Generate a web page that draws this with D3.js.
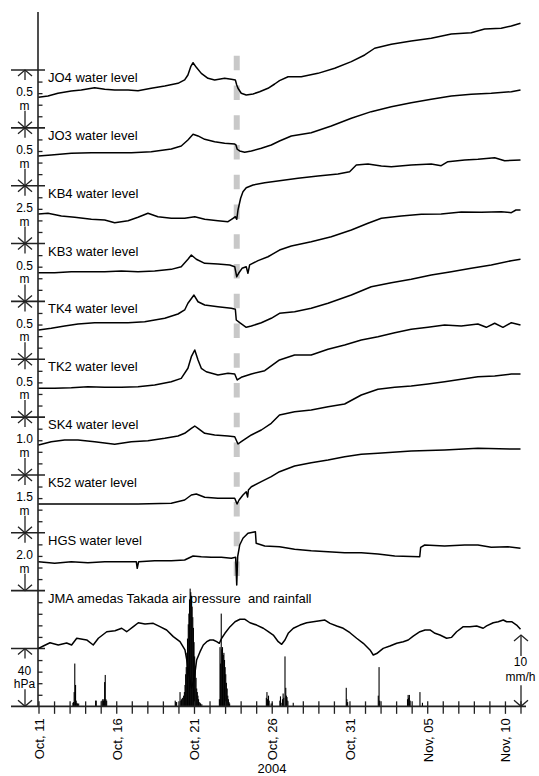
<!DOCTYPE html>
<html>
<head>
<meta charset="utf-8">
<script src="https://cdn.jsdelivr.net/npm/d3@7"></script>
<style>
body { margin: 0; background: #fff; }
text { font-family: "Liberation Sans", Arial, sans-serif; font-size: 13px; fill: #000; }
text.bar-label { font-size: 12px; }
</style>
</head>
<body>
<div id="vis-container"></div>
<script>
// station names and the length of each scale bar (m)
var stations = ["JO4", "JO3", "KB4", "KB3", "TK4", "TK2", "SK4", "K52", "HGS"];
var scaleM = [0.5, 0.5, 2.5, 0.5, 0.5, 0.5, 1.0, 1.5, 2.0];
var scaleLabels = ["0.5", "0.5", "2.5", "0.5", "0.5", "0.5", "1.0", "1.5", "2.0"];

// water levels: [days since Oct 11 00:00, level above panel floor (m)]
var jo4 = [[0,0.264],[0.61,0.275],[1.25,0.299],[2.11,0.318],[2.75,0.327],[3.61,0.347],[4.26,0.333],[4.9,0.327],[5.76,0.327],[6.4,0.321],[7.25,0.342],[8.12,0.362],[8.97,0.385],[9.4,0.414],[9.61,0.457],[9.79,0.529],[9.94,0.563],[10.15,0.523],[10.47,0.471],[10.9,0.428],[11.33,0.414],[11.97,0.428],[12.4,0.420],[12.66,0.414],[12.75,0.370],[12.83,0.342],[13.04,0.299],[13.36,0.284],[13.8,0.293],[14.22,0.312],[14.76,0.342],[15.19,0.379],[15.5,0.408],[16.05,0.442],[16.9,0.442],[17.97,0.471],[19.05,0.515],[20.12,0.572],[20.98,0.630],[21.62,0.688],[22.69,0.722],[23.97,0.751],[25.26,0.774],[26.55,0.811],[27.83,0.822],[28.69,0.854],[29.76,0.860],[30.41,0.880],[31,0.904]];
var jo3 = [[0,0.257],[0.82,0.265],[2.11,0.280],[3.4,0.285],[4.68,0.285],[5.97,0.285],[7.25,0.294],[8.54,0.317],[9.18,0.343],[9.61,0.395],[9.94,0.444],[10.26,0.430],[10.69,0.401],[11.33,0.380],[11.97,0.366],[12.62,0.360],[12.7,0.352],[12.78,0.315],[12.94,0.300],[13.26,0.289],[13.69,0.300],[14.33,0.323],[14.97,0.352],[15.5,0.386],[16.26,0.430],[17.54,0.458],[18.83,0.516],[20.12,0.583],[21.4,0.640],[22.69,0.683],[23.97,0.717],[25.26,0.747],[26.55,0.775],[27.83,0.790],[29.12,0.799],[30.41,0.812],[31,0.827]];
var kb4 = [[0,1.277],[0.61,1.307],[1.47,1.191],[2.33,1.135],[3.4,1.048],[4.26,1.018],[4.9,0.901],[5.76,0.988],[6.4,1.135],[7.04,1.307],[7.68,1.160],[8.54,1.091],[9.4,1.091],[10.05,1.160],[10.69,1.048],[11.54,0.988],[12.19,0.944],[12.51,1.091],[12.66,1.160],[12.75,1.048],[12.83,1.450],[13,1.956],[13.15,2.241],[13.36,2.414],[13.8,2.531],[14.55,2.630],[15.5,2.716],[16.69,2.820],[17.97,2.919],[19.26,3.006],[20.01,3.105],[20.44,3.395],[21.19,3.438],[22.05,3.352],[22.69,3.321],[23.97,3.395],[25.26,3.438],[25.9,3.365],[26.33,3.538],[27.41,3.611],[28.26,3.641],[29.34,3.710],[29.98,3.581],[31,3.611]];
var kb3 = [[0,0.248],[1.04,0.248],[2.11,0.257],[3.18,0.257],[4.26,0.257],[5.33,0.263],[6.4,0.257],[7.47,0.263],[8.54,0.277],[9.18,0.300],[9.61,0.364],[9.83,0.401],[10.15,0.364],[10.69,0.329],[11.54,0.323],[12.3,0.315],[12.62,0.300],[12.75,0.213],[12.87,0.243],[13.09,0.286],[13.36,0.300],[13.47,0.243],[13.58,0.315],[14.12,0.352],[14.76,0.386],[15.5,0.444],[16.26,0.479],[17.54,0.516],[18.83,0.559],[20.12,0.617],[21.19,0.675],[22.05,0.718],[23.33,0.738],[24.62,0.753],[25.9,0.755],[27.19,0.773],[28.48,0.770],[29.76,0.775],[30.41,0.767],[30.71,0.790],[31,0.790]];
var tk4 = [[0,0.253],[0.82,0.267],[1.68,0.287],[2.54,0.305],[3.61,0.316],[4.68,0.316],[5.76,0.316],[6.83,0.325],[8.12,0.354],[8.97,0.391],[9.4,0.426],[9.61,0.484],[10.0,0.555],[10.26,0.497],[10.69,0.469],[11.54,0.454],[12.4,0.440],[12.66,0.432],[12.72,0.339],[12.94,0.316],[13.36,0.276],[13.69,0.287],[14.33,0.316],[14.97,0.354],[15.5,0.397],[16.47,0.411],[17.54,0.440],[18.62,0.484],[20.12,0.555],[21.4,0.627],[22.69,0.662],[23.97,0.691],[25.26,0.728],[26.55,0.757],[27.83,0.786],[29.12,0.815],[30.41,0.852],[31,0.864]];
var tk2 = [[0,0.249],[1.04,0.249],[2.11,0.254],[3.18,0.263],[4.26,0.258],[5.33,0.258],[6.4,0.263],[7.47,0.277],[8.54,0.306],[9.18,0.335],[9.61,0.422],[9.83,0.522],[10.05,0.580],[10.26,0.494],[10.47,0.422],[10.79,0.392],[11.54,0.364],[12.19,0.379],[12.62,0.373],[12.78,0.321],[13.04,0.344],[13.69,0.373],[14.55,0.401],[15.5,0.494],[16.47,0.537],[17.54,0.537],[18.62,0.586],[19.69,0.623],[20.76,0.666],[21.83,0.695],[22.91,0.729],[23.97,0.759],[25.05,0.776],[26.12,0.796],[27.19,0.787],[28.26,0.805],[28.8,0.776],[29.34,0.811],[29.87,0.776],[30.41,0.816],[31,0.796]];
var sk4 = [[0,0.518],[0.82,0.575],[1.68,0.604],[2.54,0.604],[3.61,0.575],[4.9,0.530],[5.97,0.575],[7.04,0.592],[8.12,0.634],[8.97,0.673],[9.4,0.720],[9.83,0.806],[10.05,0.846],[10.26,0.806],[10.69,0.720],[11.33,0.691],[12.19,0.673],[12.62,0.661],[12.83,0.535],[13.04,0.575],[13.69,0.691],[14.33,0.777],[14.97,0.893],[15.5,1.036],[16.47,1.093],[17.54,1.123],[18.62,1.180],[19.69,1.226],[20.76,1.382],[21.83,1.481],[22.91,1.515],[23.97,1.538],[25.05,1.572],[26.12,1.612],[27.19,1.653],[28.26,1.698],[29.34,1.710],[30.41,1.745],[31,1.745]];
var k52 = [[0,0.747],[2.11,0.747],[4.26,0.747],[6.4,0.747],[8.54,0.765],[9.4,0.851],[9.83,0.980],[10.15,1.006],[10.69,0.921],[11.54,0.895],[12.19,0.895],[12.62,0.895],[12.77,0.747],[12.9,0.851],[13.15,0.980],[13.36,1.066],[13.45,0.928],[13.5,1.110],[13.69,1.195],[14.33,1.325],[14.97,1.455],[15.5,1.584],[16.47,1.732],[17.54,1.818],[18.62,1.888],[19.69,1.973],[20.76,2.035],[21.83,2.061],[23.97,2.121],[26.12,2.147],[28.26,2.191],[30.41,2.173],[31,2.173]];
var hgs = [[0,1.001],[1.04,0.945],[2.11,1.001],[3.18,0.966],[4.26,1.001],[5.33,1.001],[6.29,1.001],[6.35,0.773],[6.44,1.001],[7.47,1.035],[8.54,1.035],[9.4,1.060],[9.94,1.198],[10.47,1.174],[11.11,1.153],[11.76,1.153],[12.4,1.118],[12.68,1.153],[12.75,0.195],[12.81,1.174],[12.94,1.578],[13.15,1.810],[13.47,1.983],[13.95,2.038],[14.0,1.637],[14.55,1.544],[15.5,1.519],[16.47,1.429],[17.54,1.381],[18.62,1.347],[19.69,1.312],[20.76,1.312],[21.83,1.267],[22.91,1.198],[24.52,1.174],[24.58,1.499],[24.84,1.578],[26.12,1.544],[27.41,1.578],[28.26,1.578],[29.12,1.499],[30.19,1.519],[31,1.464]];
var levels = [jo4, jo3, kb4, kb3, tk4, tk2, sk4, k52, hgs];

// JMA amedas Takada: air pressure (hPa) and hourly rainfall (mm/h)
var pressure = [[0,1000.1],[0.31,1001.7],[0.74,1004.0],[1.27,1002.4],[1.81,1003.8],[2.13,1002.4],[2.46,1007.1],[3.1,1005.9],[3.52,1002.4],[3.85,1007.1],[4.39,1011.6],[4.92,1012.3],[5.35,1014.0],[5.67,1011.6],[6.1,1015.1],[6.42,1017.8],[6.85,1016.9],[7.38,1017.4],[7.81,1015.1],[8.24,1012.8],[8.67,1008.2],[9.1,1004.7],[9.42,999.0],[9.57,990.0],[9.68,981.7],[9.84,972.7],[10.0,978.2],[10.17,992.0],[10.39,997.8],[10.6,1002.4],[10.82,1004.7],[11.03,1005.9],[11.24,1005.9],[11.46,1004.7],[11.63,1003.6],[11.78,1007.1],[11.99,1010.5],[12.32,1015.1],[12.64,1018.5],[12.96,1020.2],[13.28,1020.2],[13.6,1017.8],[14.03,1016.2],[14.46,1014.0],[14.78,1011.6],[15.1,1009.3],[15.42,1004.7],[15.64,1002.9],[15.85,1005.9],[16.06,1010.5],[16.39,1014.0],[16.82,1016.2],[17.25,1017.8],[17.67,1018.5],[18.1,1019.2],[18.42,1019.7],[18.75,1017.4],[19.18,1015.6],[19.6,1014.0],[20.03,1010.9],[20.46,1007.1],[20.89,1003.6],[21.32,999.0],[21.53,995.5],[21.75,996.5],[22.17,1000.1],[22.6,1001.7],[23.04,1003.6],[23.46,1004.7],[23.78,1005.9],[24.1,1008.6],[24.53,1011.6],[24.86,1012.8],[25.18,1012.8],[25.5,1010.5],[25.82,1009.3],[26.25,1007.1],[26.57,1007.7],[26.89,1011.6],[27.32,1015.1],[27.75,1015.1],[28.18,1015.6],[28.6,1014.0],[28.82,1015.6],[29.25,1017.8],[29.57,1018.5],[29.89,1019.7],[30.11,1018.5],[30.43,1018.5],[30.75,1016.2],[31,1013.3]];
var rain = [[2.21,0.5],[2.25,0.6],[2.29,2.0],[2.33,6.0],[2.38,3.0],[2.42,0.8],[2.46,0.5],[2.5,0.4],[2.58,0.4],
  [3.67,0.8],[3.71,0.8],
  [4.08,0.8],[4.13,1.0],[4.17,0.8],[4.21,1.0],[4.25,3.4],[4.29,4.4],[4.33,1.0],[4.38,0.8],
  [8.79,0.8],[8.83,0.6],[8.88,0.6],
  [9.1,2.0],[9.15,0.8],[9.2,1.0],[9.25,1.2],[9.33,1.5],[9.38,2.0],[9.42,3.0],[9.46,4.5],[9.5,5.5],[9.54,7.5],[9.58,9.5],[9.63,11.5],[9.67,13.0],[9.71,15.0],[9.75,16.5],[9.79,16.0],[9.83,15.5],[9.88,14.0],[9.92,12.5],[9.96,11.0],[10.0,9.0],[10.04,7.0],[10.08,5.5],[10.13,4.0],[10.17,2.5],[10.21,2.0],[10.25,1.5],[10.29,1.0],[10.33,0.6],[10.38,0.5],[10.42,0.4],[10.5,0.3],
  [11.63,1.0],[11.67,8.3],[11.71,6.0],[11.75,13.0],[11.79,8.0],[11.83,8.3],[11.88,7.2],[11.92,7.5],[11.96,6.5],[12.0,5.5],[12.04,4.5],[12.08,3.3],[12.13,2.5],[12.17,1.5],[12.21,1.0],[12.25,0.6],[12.29,0.4],
  [14.65,1.2],[14.69,2.0],[14.73,1.0],[14.79,1.5],[14.83,0.8],[14.96,0.4],[15.04,0.5],
  [15.52,0.8],[15.56,1.4],[15.6,0.5],[15.69,1.0],[15.73,1.8],[15.77,1.2],[15.85,7.0],[15.9,2.6],[15.94,1.5],[15.98,1.3],[16.02,0.8],[16.38,0.5],
  [19.79,2.6],[19.83,1.0],[19.88,0.6],
  [21.85,1.5],[21.9,5.5],[21.94,0.8],
  [23.73,1.0],[23.77,1.6],[23.81,1.2],[23.85,1.6],[23.9,0.8],
  [24.53,2.0],[24.69,0.5]];

var tickLabels = ["Oct, 11", "Oct, 16", "Oct, 21", "Oct, 26", "Oct, 31", "Nov, 05", "Nov, 10"];
var quakeDay = 12.75; // Chuetsu earthquake, Oct 23 ~18:00

var width = 539, height = 776;
var panelTop = 70, panelH = 57.85, nPanels = 11;
var axisX = 38, barX = 25;

var svg = d3.select("#vis-container").append("svg")
    .attr("width", width).attr("height", height);

var t0 = Date.UTC(2004, 9, 11);
function toDate(d) { return new Date(t0 + d * 864e5); }

var xScale = d3.scaleUtc()
    .domain([toDate(0), toDate(31)])
    .range([38.5, 520.5]);

function pTop(i) { return panelTop + i * panelH; }
var bottomY = pTop(nPanels);

// grey dashed line at the earthquake
svg.append("line")
    .attr("x1", xScale(toDate(quakeDay))).attr("x2", xScale(toDate(quakeDay)))
    .attr("y1", 55.7).attr("y2", 576)
    .attr("stroke", "#c8c8c8").attr("stroke-width", 6)
    .attr("stroke-dasharray", "14.5,15.25");

// left axis line
svg.append("line")
    .attr("x1", axisX).attr("x2", axisX).attr("y1", 12).attr("y2", bottomY)
    .attr("stroke", "#222").attr("stroke-width", 1.6);

// minor ticks on the left axis
var panelScale = d3.scaleLinear().domain([0, nPanels]).range([pTop(0), bottomY]);
var minor = d3.range(0, nPanels * 5 + 1).map(k => k / 5).filter(v => Math.abs(v - Math.round(v)) > 1e-6);
var leftAxis = svg.append("g")
    .attr("transform", "translate(" + axisX + ",0)")
    .call(d3.axisRight(panelScale).tickValues(minor).tickSize(4.5).tickFormat(""));
leftAxis.select(".domain").remove();
leftAxis.selectAll("line").attr("stroke", "#222").attr("stroke-width", 1.3);

// panel dividers
for (var p = 0; p < nPanels; p++) {
    svg.append("line")
        .attr("x1", 11).attr("x2", 45).attr("y1", pTop(p)).attr("y2", pTop(p))
        .attr("stroke", "#222").attr("stroke-width", 1.6);
}

// scale bar with arrows, number and unit stacked in one text
function scaleBar(cx, top, bot, num, unit, gapTop, gapBot, numY, lineGap) {
    var g = svg.append("g").attr("stroke", "#222").attr("stroke-width", 1.3).attr("fill", "none");
    g.append("line").attr("x1", cx).attr("x2", cx).attr("y1", top).attr("y2", top + gapTop);
    g.append("line").attr("x1", cx).attr("x2", cx).attr("y1", bot - gapBot).attr("y2", bot);
    g.append("path").attr("d", "M" + (cx - 7) + "," + (top + 6) + "L" + cx + "," + top + "L" + (cx + 7) + "," + (top + 6));
    g.append("path").attr("d", "M" + (cx - 7) + "," + (bot - 6) + "L" + cx + "," + bot + "L" + (cx + 7) + "," + (bot - 6));
    var t = svg.append("text").attr("class", "bar-label").attr("text-anchor", "middle").attr("y", top + numY);
    t.append("tspan").attr("x", cx - 0.5).text(num);
    t.append("tspan").attr("x", cx - 0.5).attr("dy", lineGap).text(unit);
}

stations.forEach(function (st, i) {
    scaleBar(barX, pTop(i), pTop(i + 1), scaleLabels[i], "m", 10, 17, 26.3, 13.5);
});
scaleBar(barX, pTop(10), pTop(11), "40", "hPa", 10, 17, 26.3, 13.5);

// water level traces
var lineGroup = svg.append("g");
levels.forEach(function (series, i) {
    var y = d3.scaleLinear().domain([0, scaleM[i]]).range([pTop(i + 1), pTop(i)]);
    var line = d3.line()
        .x(d => xScale(toDate(d[0])))
        .y(d => y(d[1]));
    lineGroup.append("path")
        .attr("d", line(series))
        .attr("fill", "none").attr("stroke", "#000").attr("stroke-width", 1.5)
        .attr("stroke-linejoin", "round");
    svg.append("text")
        .attr("x", 48).attr("y", pTop(i) + 12)
        .text(stations[i] + " water level");
});

// rainfall bars
var rainY = d3.scaleLinear().domain([0, 10]).range([bottomY, 635]);
svg.append("g").selectAll("rect")
    .data(rain).enter().append("rect")
    .attr("x", d => xScale(toDate(d[0])) - 0.5)
    .attr("width", 1.1)
    .attr("y", d => rainY(d[1]))
    .attr("height", d => rainY(0) - rainY(d[1]))
    .attr("fill", "#000");

// pressure line
var presY = d3.scaleLinear().domain([1000, 1040]).range([pTop(10), pTop(9)]);
svg.append("path")
    .attr("d", d3.line().x(d => xScale(toDate(d[0]))).y(d => presY(d[1]))(pressure))
    .attr("fill", "none").attr("stroke", "#000").attr("stroke-width", 1.5)
    .attr("stroke-linejoin", "round");

svg.append("text")
    .attr("x", 48).attr("y", pTop(9) + 12)
    .style("white-space", "pre")
    .text("JMA amedas Takada air pressure  and rainfall");

// mm/h scale bar on the right
scaleBar(521, 635, bottomY, "10", "mm/h", 21, 21, 31.2, 14.5);

// x axis with crossing day ticks
svg.append("line")
    .attr("x1", 11).attr("x2", 526).attr("y1", bottomY).attr("y2", bottomY)
    .attr("stroke", "#222").attr("stroke-width", 1.6);

var dayTicks = d3.range(0, 32).map(toDate);
var xAxis = svg.append("g")
    .attr("transform", "translate(0," + bottomY + ")")
    .call(d3.axisBottom(xScale).tickValues(dayTicks).tickSize(7.5)
        .tickFormat((d, i) => i % 5 === 0 ? tickLabels[i / 5] : ""));
xAxis.select(".domain").remove();
xAxis.selectAll("line").attr("y1", -5).attr("stroke", "#222").attr("stroke-width", 1.3);
xAxis.selectAll("text")
    .attr("transform", "rotate(-90)")
    .attr("text-anchor", "end")
    .attr("x", -12).attr("y", 5).attr("dy", 0)
    .style("font-size", "13px")
    .style("font-family", "\"Liberation Sans\", Arial, sans-serif")
    .attr("fill", "#000");

svg.append("text")
    .attr("x", 272).attr("y", 773)
    .attr("text-anchor", "middle")
    .text("2004");
</script>
</body>
</html>
